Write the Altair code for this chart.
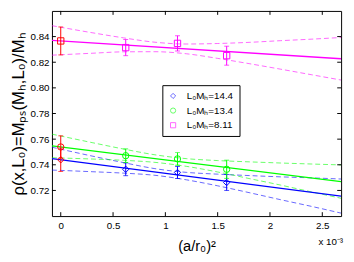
import altair as alt
import pandas as pd

# ---------------- data ----------------
series = ["L₀Mₕ=14.4", "L₀Mₕ=13.4", "L₀Mₕ=8.11"]
colors = ["#0000ff", "#00ff00", "#ff00ff"]
shapes = ["diamond", "circle", "square"]

sim_x = [0.621, 1.116, 1.586]           # (a/r0)^2 in units of 1e-3
blue_y = [0.7365, 0.7340, 0.7262]
blue_err = [0.0050, 0.0047, 0.0062]
green_y = [0.7471, 0.7446, 0.7365]
green_err = [0.0053, 0.0049, 0.0071]
mag_y = [0.8314, 0.8347, 0.8251]
mag_err = [0.0063, 0.0059, 0.0074]

cont_x = [0.0, 0.0, 0.0]                 # continuum-limit points (red)
cont_y = [0.7439, 0.7539, 0.8366]
cont_err = [0.0091, 0.0087, 0.0109]

fit_x = [-0.084, 2.68]
blue_fit = [0.7448, 0.7156]
green_fit = [0.7547, 0.7269]
mag_fit = [0.8370, 0.8227]

band_x = [-0.084, 0.3, 0.6, 0.9, 1.2, 1.5, 1.8, 2.1, 2.4, 2.68]
blue_up = [0.7537, 0.7468, 0.7417, 0.7370, 0.7341, 0.7327, 0.7316, 0.7306, 0.7298, 0.7289]
blue_lo = [0.7359, 0.7346, 0.7335, 0.7318, 0.7283, 0.7236, 0.7183, 0.7128, 0.7075, 0.7023]
green_up = [0.7639, 0.7573, 0.7523, 0.7478, 0.7448, 0.7433, 0.7423, 0.7414, 0.7406, 0.7399]
green_lo = [0.7455, 0.7445, 0.7435, 0.7419, 0.7388, 0.7344, 0.7293, 0.7242, 0.7188, 0.7139]
mag_up = [0.8485, 0.8430, 0.8390, 0.8356, 0.8342, 0.8346, 0.8355, 0.8368, 0.8380, 0.8393]
mag_lo = [0.8255, 0.8270, 0.8281, 0.8282, 0.8266, 0.8230, 0.8189, 0.8146, 0.8102, 0.8061]

x_ticks = [0, 0.5, 1, 1.5, 2, 2.5]
y_ticks = [0.72, 0.74, 0.76, 0.78, 0.80, 0.82, 0.84]

x_title = "(a/r₀)²"
y_title = "ρ(x,L₀)=Mₚₛ(Mₕ,L₀)/Mₕ"
exp_label = "x 10⁻³"

# ---------------- tables ----------------
sim_vals = [blue_y, green_y, mag_y]
sim_errs = [blue_err, green_err, mag_err]
sim = pd.DataFrame([
    {"series": s, "x": sim_x[j], "y": sim_vals[i][j],
     "lo": sim_vals[i][j] - sim_errs[i][j], "hi": sim_vals[i][j] + sim_errs[i][j]}
    for i, s in enumerate(series) for j in range(len(sim_x))
])
cont = pd.DataFrame([
    {"series": s, "x": cont_x[i], "y": cont_y[i],
     "lo": cont_y[i] - cont_err[i], "hi": cont_y[i] + cont_err[i]}
    for i, s in enumerate(series)
])
fits = [blue_fit, green_fit, mag_fit]
fit = pd.DataFrame([
    {"series": s, "x": fit_x[j], "y": fits[i][j]}
    for i, s in enumerate(series) for j in range(len(fit_x))
])
ups = [blue_up, green_up, mag_up]
los = [blue_lo, green_lo, mag_lo]
band = pd.DataFrame(
    [{"series": s, "bound": "up", "x": band_x[j], "y": ups[i][j]}
     for i, s in enumerate(series) for j in range(len(band_x))] +
    [{"series": s, "bound": "lo", "x": band_x[j], "y": los[i][j]}
     for i, s in enumerate(series) for j in range(len(band_x))]
)
xt = pd.DataFrame({"x": x_ticks})
yt = pd.DataFrame({"y": y_ticks})
ann = pd.DataFrame({"t": [exp_label]})

# ---------------- scales / axes ----------------
W, H = 296, 210
xs = alt.Scale(domain=[-0.084, 2.68], nice=False, zero=False)
ys = alt.Scale(domain=[0.70, 0.86], nice=False, zero=False)
cs = alt.Scale(domain=series, range=colors)
ss = alt.Scale(domain=series, range=shapes)

x_axis = alt.Axis(values=x_ticks, format=".1~f", ticks=False, tickSize=0, domain=False,
                  grid=False, labelPadding=5, title=x_title, titlePadding=8)
y_axis = alt.Axis(values=y_ticks, format=".2f", ticks=False, tickSize=0, domain=False,
                  grid=False, labelPadding=3, title=y_title, titlePadding=3)

leg = alt.Legend(orient="none", legendX=113, legendY=76, title=None,
                 strokeColor="black", fillColor="white", padding=6,
                 labelFont="Liberation Sans", labelFontSize=10, labelColor="black",
                 symbolSize=28, symbolStrokeWidth=1, rowPadding=5, labelOffset=9,
                 symbolOpacity=0.6, symbolFillColor="transparent")

X = alt.X("x:Q", scale=xs, axis=x_axis)
Y = alt.Y("y:Q", scale=ys, axis=y_axis)
YLO = alt.Y("lo:Q", scale=ys, axis=y_axis)
YHI = alt.Y("hi:Q", scale=ys, axis=y_axis)

layers = []
# dashed error bands and solid fit lines, one colour per series
for i, s in enumerate(series):
    layers.append(
        alt.Chart(band[band["series"] == s]).mark_line(
            strokeDash=[5, 3], strokeWidth=1, opacity=0.6, clip=True,
            interpolate="monotone", color=colors[i]
        ).encode(x=X, y=Y, detail="bound:N"))
for i, s in enumerate(series):
    layers.append(
        alt.Chart(fit[fit["series"] == s]).mark_line(
            strokeWidth=1.3, clip=True, color=colors[i]).encode(x=X, y=Y))

# error bars with small caps
def bars(df, col):
    return [
        alt.Chart(df).mark_rule(strokeWidth=1, color=col).encode(x=X, y=YLO, y2="hi:Q"),
        alt.Chart(df).mark_tick(orient="horizontal", size=5, thickness=1,
                                color=col).encode(x=X, y=YLO),
        alt.Chart(df).mark_tick(orient="horizontal", size=5, thickness=1,
                                color=col).encode(x=X, y=YHI),
    ]

for i, s in enumerate(series):
    layers += bars(sim[sim["series"] == s], colors[i])
layers += bars(cont, "#ff0000")

# simulation points (carry the legend)
layers.append(
    alt.Chart(sim).mark_point(filled=False, size=42, strokeWidth=1, opacity=1).encode(
        x=X, y=Y,
        color=alt.Color("series:N", scale=cs, legend=leg),
        shape=alt.Shape("series:N", scale=ss, legend=leg)))

# continuum-limit points in red
for i, s in enumerate(series):
    layers.append(
        alt.Chart(cont[cont["series"] == s]).mark_point(
            filled=False, size=42, strokeWidth=1, opacity=1, color="#ff0000", shape=shapes[i]
        ).encode(x=X, y=Y))

# inward ticks on all four sides
layers += [
    alt.Chart(xt).mark_rule(color="black").encode(x=X, y=alt.value(H), y2=alt.value(H - 4)),
    alt.Chart(xt).mark_rule(color="black").encode(x=X, y=alt.value(0), y2=alt.value(4)),
    alt.Chart(yt).mark_rule(color="black").encode(y=Y, x=alt.value(0), x2=alt.value(4)),
    alt.Chart(yt).mark_rule(color="black").encode(y=Y, x=alt.value(W), x2=alt.value(W - 4)),
]

layers.append(
    alt.Chart(ann).mark_text(align="right", baseline="alphabetic", fontSize=10,
                             font="Liberation Sans", color="black").encode(
        x=alt.value(298), y=alt.value(240), text="t:N"))

chart = alt.layer(*layers).properties(
    width=W, height=H,
    autosize=alt.AutoSizeParams(type="none"),
    padding={"left": 45, "top": 0, "right": 5, "bottom": 44},
).configure_view(
    stroke="black", strokeWidth=1
).configure_axis(
    labelFont="Liberation Sans", titleFont="Liberation Sans",
    labelColor="black", titleColor="black", titleFontWeight="normal",
    labelFontSize=10, titleFontSize=15
).configure_axisLeft(
    titleFontSize=17
)

chart.save("out.html", embed_options={"renderer": "svg", "actions": False})
